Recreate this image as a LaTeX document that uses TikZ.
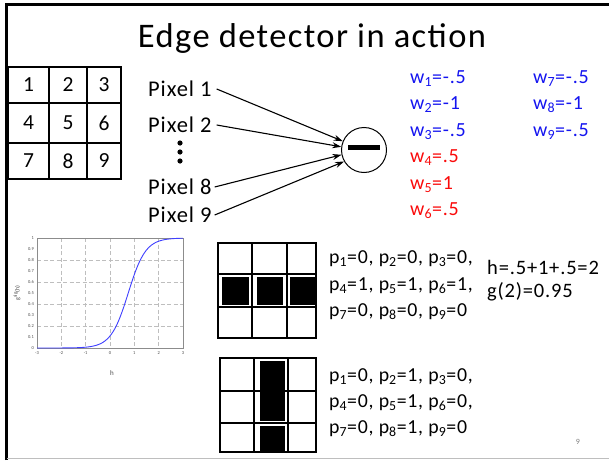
\documentclass[tikz,border=0pt]{standalone}
\usepackage{fontspec}
\setmainfont{Carlito}[LetterSpace=4]
\newfontfamily\plainfont{Carlito}
\usetikzlibrary{arrows.meta}
\definecolor{wblue}{RGB}{20,20,240}
\definecolor{wred}{RGB}{250,10,10}
\definecolor{gridgray}{RGB}{190,190,190}
\tikzset{
  lbl/.style={inner sep=0pt, anchor=west, font=\fontsize{22.5}{22.5}\selectfont},
  wb/.style={lbl, text=wblue, font=\fontsize{20}{20}\selectfont},
  wr/.style={lbl, text=wred, font=\fontsize{20}{20}\selectfont},
  pv/.style={lbl, font=\fontsize{19.8}{19.8}\selectfont},
  hv/.style={lbl, font=\fontsize{20.5}{20.5}\selectfont},
  num/.style={inner sep=0pt, font=\fontsize{21.5}{21.5}\selectfont},
  tick/.style={inner sep=0pt, font=\plainfont\fontsize{4.5}{4.5}\selectfont, text=black!70},
  arr/.style={-{Stealth[length=9pt,width=6pt]}, line width=1.1pt},
  cellline/.style={line width=1.6pt},
  blk/.style={fill=black},
}
\begin{document}
\begin{tikzpicture}[x=1pt,y=-1pt]
\useasboundingbox (0,0) rectangle (609,460);
\fill[white] (0,0) rectangle (609,460);
% slide frame
\draw[line width=3pt] (6,460) -- (6,5) -- (609,5);
\draw[gridgray, line width=1.2pt] (7,458.5) -- (609,458.5);
% title
\node[inner sep=0pt, anchor=base, font=\fontsize{34.5}{34.5}\selectfont] (title) at (312,48) {Edge detector in action};
% 3x3 numbered grid
\draw[cellline] (8,67) rectangle (121,179);
\draw[cellline] (49,67) -- (49,179) (87,67) -- (87,179) (8,103) -- (121,103) (8,143) -- (121,143);
\node[num] (n1) at (28.5,85) {1};
\node[num] (n2) at (68,85) {2};
\node[num] (n3) at (104,85) {3};
\node[num] (n4) at (28.5,123) {4};
\node[num] (n5) at (68,123) {5};
\node[num] (n6) at (104,123) {6};
\node[num] (n7) at (28.5,161) {7};
\node[num] (n8) at (68,161) {8};
\node[num] (n9) at (104,161) {9};
% pixel labels
\node[lbl] (p1) at (148,89) {Pixel 1};
\node[lbl] (p2) at (148,125) {Pixel 2};
\node[lbl] (p8) at (148,187) {Pixel 8};
\node[lbl] (p9) at (148,215) {Pixel 9};
\fill (180,143) circle (2.6pt) (180,152) circle (2.6pt) (180,161) circle (2.6pt);
% neuron
\node[draw, circle, line width=1pt, minimum size=45pt, inner sep=0pt] (neuron) at (364,150) {};
\fill (348,145) rectangle (380,150);
\draw[arr] ([xshift=5pt]p1.east) -- (neuron);
\draw[arr] ([xshift=5pt]p2.east) -- (neuron.172);
\draw[arr] ([xshift=3pt]p8.east) -- (neuron.192);
\draw[arr] ([xshift=3pt]p9.east) -- (neuron.210);
% weights
\node[wb] (w1) at (410,79) {w\textsubscript{1}=-.5};
\node[wb] (w2) at (410,105) {w\textsubscript{2}=-1};
\node[wb] (w3) at (410,132) {w\textsubscript{3}=-.5};
\node[wr] (w4) at (410,158) {w\textsubscript{4}=.5};
\node[wr] (w5) at (410,185) {w\textsubscript{5}=1};
\node[wr] (w6) at (410,211) {w\textsubscript{6}=.5};
\node[wb] (w7) at (533,79) {w\textsubscript{7}=-.5};
\node[wb] (w8) at (533,105) {w\textsubscript{8}=-1};
\node[wb] (w9) at (533,132) {w\textsubscript{9}=-.5};
% sigmoid plot
\foreach \h in {-2,-1,0,1,2} {
  \draw[gridgray, dash pattern=on 4pt off 2.5pt, line width=0.6pt] ({37+(\h+3)*24.333},238) -- ({37+(\h+3)*24.333},348);
}
\foreach \g in {0.2,0.4,0.6,0.8} {
  \draw[gridgray, dash pattern=on 4pt off 2.5pt, line width=0.6pt] (37,{348-110*\g}) -- (183,{348-110*\g});
}
\draw[black!45, line width=0.5pt] (37,238) rectangle (183,348);
\foreach \h in {-3,-2,-1,0,1,2,3} {
  \node[tick] at ({37+(\h+3)*24.333},353.5) {\h};
}
\foreach \g/\t in {0/0,0.1/0.1,0.2/0.2,0.3/0.3,0.4/0.4,0.5/0.5,0.6/0.6,0.7/0.7,0.8/0.8,0.9/0.9,1/1} {
  \node[tick, anchor=east] at (34,{348-110*\g}) {\t};
}
\draw[blue!75, line width=0.9pt] plot[domain=-3:3, samples=80, smooth] ({37+(\x+3)*24.333},{348-110/(1+exp(min(8,-2.8*(\x-0.75))))});
\node[tick, rotate=90, font=\plainfont\fontsize{6}{6}\selectfont] (ylab) at (17,293) {g\textsuperscript{sig}(h)};
\node[tick, font=\plainfont\fontsize{7}{7}\selectfont] (xlab) at (112,373) {h};
% grid A (horizontal bar)
\fill[blk] (222,277) rectangle (249,305);
\fill[blk] (257,277) rectangle (283,305);
\fill[blk] (290,277) rectangle (316,305);
\draw[cellline] (218,243) rectangle (316,338);
\draw[cellline] (252,243) -- (252,338) (287,243) -- (287,338) (218,274) -- (316,274) (218,307) -- (316,307);
% grid B (vertical bar)
\fill[blk] (260,361) rectangle (285,421);
\fill[blk] (260,426) rectangle (285,452);
\draw[cellline] (220,358) rectangle (316,452);
\draw[cellline] (254,358) -- (254,452) (288,358) -- (288,452) (220,391) -- (316,391) (220,423) -- (316,423);
% p values
\node[pv] (a1) at (329,259) {p\textsubscript{1}=0, p\textsubscript{2}=0, p\textsubscript{3}=0,};
\node[pv] (a2) at (329,286) {p\textsubscript{4}=1, p\textsubscript{5}=1, p\textsubscript{6}=1,};
\node[pv] (a3) at (329,312) {p\textsubscript{7}=0, p\textsubscript{8}=0, p\textsubscript{9}=0};
\node[pv] (b1) at (329,377) {p\textsubscript{1}=0, p\textsubscript{2}=1, p\textsubscript{3}=0,};
\node[pv] (b2) at (329,403) {p\textsubscript{4}=0, p\textsubscript{5}=1, p\textsubscript{6}=0,};
\node[pv] (b3) at (329,429) {p\textsubscript{7}=0, p\textsubscript{8}=1, p\textsubscript{9}=0};
\node[hv] (hsum) at (487,267) {h=.5+1+.5=2};
\node[hv] (g2) at (487,292) {g(2)=0.95};
\node[inner sep=0pt, font=\plainfont\fontsize{8}{8}\selectfont, text=black!50] (pg) at (578,442) {9};
\end{tikzpicture}
\end{document}
